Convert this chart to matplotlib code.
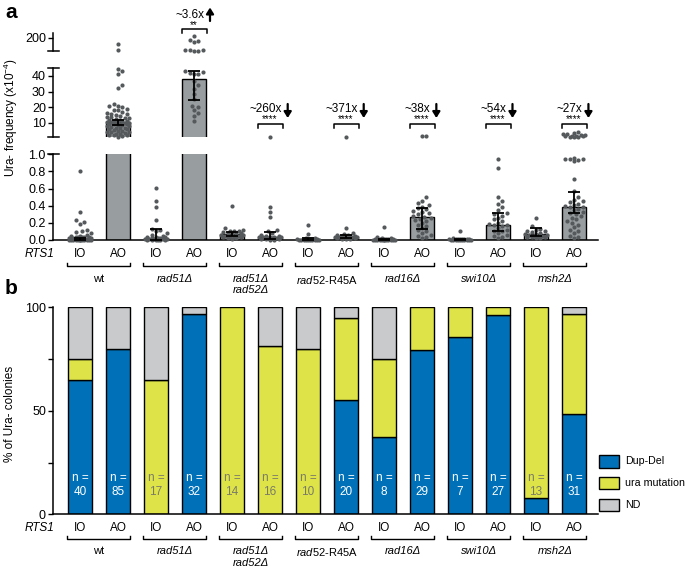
import numpy as np
import matplotlib
matplotlib.use('Agg')
import matplotlib.pyplot as plt
from matplotlib import transforms
from matplotlib.lines import Line2D
from matplotlib.patches import Rectangle, FancyArrowPatch

plt.rcParams['font.family'] = ['Liberation Sans', 'DejaVu Sans']
plt.rcParams['mathtext.fontset'] = 'custom'
plt.rcParams['mathtext.rm'] = 'Liberation Sans'
plt.rcParams['mathtext.it'] = 'Liberation Sans:italic'
plt.rcParams['mathtext.bf'] = 'Liberation Sans:bold'

# ---------------- data ----------------
strains = ['wt', 'rad51Δ', 'rad51Δ\nrad52Δ', '$\\mathit{rad52}$-R45A', 'rad16Δ', 'swi10Δ', 'msh2Δ']
strain_italic = [False, True, True, False, True, True, True]
conditions = ['IO', 'AO'] * 7

# panel a: medians and error range (x10^-4)
medians = [0.01, 10.8, 0.02, 37.9, 0.065, 0.03, 0.01, 0.04, 0.005, 0.265, 0.01, 0.175, 0.066, 0.38]
err_low = [0.005, 8.7, 0.0, 24.7, 0.05, 0.01, 0.0, 0.02, 0.0, 0.13, 0.005, 0.105, 0.05, 0.315]
err_high = [0.02, 11.7, 0.125, 43.2, 0.097, 0.097, 0.02, 0.06, 0.01, 0.37, 0.015, 0.31, 0.136, 0.565]

wt_io = [0.80, 0.33, 0.23, 0.21, 0.19, 0.12, 0.10, 0.09, 0.08, 0.06, 0.05, 0.05, 0.04, 0.04,
         0.03, 0.03, 0.03, 0.02, 0.02, 0.02, 0.02, 0.015, 0.01, 0.01, 0.01, 0.01, 0.01, 0.01,
         0.005, 0.005, 0.005, 0.005, 0.0, 0.0, 0.0, 0.0, 0.0, 0.0, 0.0, 0.0]
wt_ao = [126, 61, 44.5, 43.0, 41.0, 34.5, 32.5, 22, 21, 20.5, 20, 19, 18.5, 18, 17, 16.5, 16,
         15.5, 15, 14.5, 14, 13.5, 13, 13, 12.5, 12, 12, 11.5, 11.5, 11, 11, 10.5, 10.5, 10,
         10, 10, 9.5, 9.5, 9, 9, 8.5, 8.5, 8, 8, 7.5, 7, 7, 6.5, 6, 6, 5.5, 5, 5, 4.5, 4, 4,
         3.5, 3, 3, 2.5, 2, 2, 1.5, 1.2]
rad51_io = [0.61, 0.45, 0.39, 0.23, 0.13, 0.12, 0.10, 0.08, 0.06, 0.05, 0.04, 0.03, 0.03,
            0.02, 0.02, 0.02, 0.01, 0.01, 0.01, 0.01, 0.01, 0.01, 0.0, 0.0, 0.0, 0.0, 0.0, 0.0]
rad51_ao = [223, 174, 163, 148, 57, 56, 56, 55, 54, 43.0, 42.5, 42.0, 41.5, 41.0, 37, 34, 32,
            28.5, 25, 21, 20, 18.5, 16.5, 14.5, 11.5]
rad51rad52_io = [0.40, 0.14, 0.12, 0.11, 0.10, 0.10, 0.09, 0.08, 0.08, 0.07, 0.07, 0.06, 0.06,
                 0.05, 0.05, 0.04, 0.04, 0.03, 0.03, 0.02, 0.02, 0.01]
rad51rad52_ao = [1.3, 0.39, 0.33, 0.27, 0.12, 0.10, 0.08, 0.06, 0.05, 0.05, 0.04, 0.04, 0.03,
                 0.03, 0.03, 0.02, 0.02, 0.02, 0.01, 0.01, 0.01, 0.0, 0.0]
rad52r45a_io = [0.17, 0.07, 0.02, 0.02, 0.01, 0.01, 0.01, 0.01, 0.01, 0.01, 0.005, 0.005,
                0.005, 0.005, 0.005, 0.005, 0.0, 0.0, 0.0, 0.0]
rad52r45a_ao = [1.3, 0.136, 0.08, 0.07, 0.06, 0.06, 0.05, 0.05, 0.05, 0.04, 0.04, 0.04, 0.03,
                0.03, 0.03, 0.02, 0.02, 0.02, 0.01, 0.01, 0.01]
rad16_io = [0.15, 0.03, 0.02, 0.02, 0.01, 0.01, 0.01, 0.01, 0.01, 0.01, 0.005, 0.005, 0.005,
            0.005, 0.005, 0.005, 0.0, 0.0, 0.0, 0.0, 0.0, 0.0]
rad16_ao = [1.6, 1.5, 0.50, 0.46, 0.43, 0.41, 0.39, 0.37, 0.36, 0.34, 0.33, 0.31, 0.30, 0.28,
            0.27, 0.26, 0.25, 0.23, 0.22, 0.20, 0.18, 0.16, 0.14, 0.12, 0.10, 0.08, 0.06, 0.05,
            0.03, 0.02]
swi10_io = [0.11, 0.02, 0.01, 0.01, 0.01, 0.01, 0.01, 0.01, 0.01, 0.01, 0.005, 0.005, 0.005,
            0.005, 0.005, 0.005, 0.0, 0.0, 0.0, 0.0]
swi10_ao = [0.945, 0.845, 0.50, 0.46, 0.42, 0.38, 0.35, 0.31, 0.30, 0.28, 0.26, 0.24, 0.22,
            0.20, 0.19, 0.18, 0.17, 0.16, 0.14, 0.12, 0.11, 0.10, 0.08, 0.06, 0.05, 0.03, 0.02]
msh2_io = [0.26, 0.16, 0.13, 0.12, 0.11, 0.10, 0.09, 0.08, 0.07, 0.07, 0.06, 0.06, 0.05, 0.05,
           0.04, 0.04, 0.03, 0.03, 0.02, 0.02]
msh2_ao = [4.2, 3.5, 3.0, 2.6, 2.3, 2.0, 1.8, 1.6, 1.5, 1.4, 1.3, 1.2, 1.1,
           0.96, 0.95, 0.95, 0.94, 0.93, 0.92, 0.71, 0.57, 0.50, 0.47, 0.45, 0.44, 0.42, 0.41,
           0.40, 0.39, 0.38, 0.36, 0.35, 0.33, 0.31, 0.30, 0.28, 0.26, 0.24, 0.22, 0.20, 0.18,
           0.15, 0.12, 0.10, 0.08, 0.05, 0.03, 0.02]
points = [wt_io, wt_ao, rad51_io, rad51_ao, rad51rad52_io, rad51rad52_ao, rad52r45a_io,
          rad52r45a_ao, rad16_io, rad16_ao, swi10_io, swi10_ao, msh2_io, msh2_ao]

fold_idx = [3, 5, 7, 9, 11, 13]
fold_labels = ['~3.6x', '~260x', '~371x', '~38x', '~54x', '~27x']
fold_up = [True, False, False, False, False, False]
fold_stars = ['**', '****', '****', '****', '****', '****']

# panel b: % of Ura- colonies
dupdel = [65.0, 80.0, 0.0, 96.9, 0.0, 0.0, 0.0, 55.0, 37.5, 79.3, 85.7, 96.3, 7.7, 48.4]
uramut = [10.0, 0.0, 64.7, 0.0, 100.0, 81.25, 80.0, 40.0, 37.5, 20.7, 14.3, 3.7, 92.3, 48.4]
nd = [25.0, 20.0, 35.3, 3.1, 0.0, 18.75, 20.0, 5.0, 25.0, 0.0, 0.0, 0.0, 0.0, 3.2]
n_counts = [40, 85, 17, 32, 14, 16, 10, 20, 8, 29, 7, 27, 13, 31]
legend_labels = ['Dup-Del', 'ura mutation', 'ND']

# ---------------- style ----------------
BLUE = '#0070b8'
YELLOW = '#dee447'
NDGRAY = '#c8cacb'
BARGRAY = '#989da0'
PTGRAY = '#55595c'
FS = 8.5
FS_TICK = 9
FS_NAME = 8

W, H = 685, 572
fig = plt.figure(figsize=(W / 100, H / 100), dpi=100)


def fx(px):
    return px / W


def fy(py):
    return 1 - py / H


L, R = 53, 598
ax_top = fig.add_axes([fx(L), fy(51), (R - L) / W, (51 - 33.3) / H])
ax_mid = fig.add_axes([fx(L), fy(137), (R - L) / W, (137 - 67.7) / H])
ax_bot = fig.add_axes([fx(L), fy(240), (R - L) / W, (240 - 154.3) / H])
ax_b = fig.add_axes([fx(L), fy(514.3), (R - L) / W, (514.3 - 307.3) / H])

xs = np.arange(len(conditions))
XLIM = (-0.71, 13.63)
YL_TOP, YL_MID, YL_BOT = (50, 250), (1, 45.3), (0, 1.0)
for ax, yl in [(ax_top, YL_TOP), (ax_mid, YL_MID), (ax_bot, YL_BOT), (ax_b, (0, 100))]:
    ax.set_xlim(*XLIM)
    ax.set_ylim(*yl)
    ax.patch.set_alpha(0)
    for s in ['top', 'right']:
        ax.spines[s].set_visible(False)
    for s in ['left', 'bottom']:
        ax.spines[s].set_linewidth(1.1)
    ax.tick_params(axis='y', direction='out', length=3.6, width=1.0, labelsize=FS_TICK, pad=1.5)
    ax.tick_params(axis='x', bottom=False, labelbottom=False)
for ax in (ax_top, ax_mid):
    ax.spines['bottom'].set_visible(False)

ax_top.set_yticks([200])
ax_mid.set_yticks([10, 20, 30, 40])
ax_bot.set_yticks([0, 0.2, 0.4, 0.6, 0.8, 1.0])
ax_bot.set_yticklabels(['0.0', '0.2', '0.4', '0.6', '0.8', '1.0'])

# break marks crossing the axis
for py in [51, 67.7, 137, 154.3]:
    fig.add_artist(Line2D([fx(48), fx(59)], [fy(py), fy(py)], color='black', lw=1.1,
                          transform=fig.transFigure))

px_per_x = ax_bot.transData.transform((1, 0))[0] - ax_bot.transData.transform((0, 0))[0]


def seg_for(v):
    if v <= 1.0:
        return ax_bot
    if v <= 45.3:
        return ax_mid
    return ax_top


def swarm(vals, d=4.4, maxoff=12.0):
    ys = np.array([seg_for(v).transData.transform((0, v))[1] for v in vals])
    order = np.argsort(ys)
    step = d * 0.5
    cands = [0.0]
    k = 1
    while k * step <= maxoff:
        cands += [k * step, -k * step]
        k += 1
    px_, py_ = [], []
    offs = np.zeros(len(vals))
    for i in order:
        best, bestscore = 0.0, -1
        for c in cands:
            if px_:
                dist = np.min(np.hypot(np.array(px_) - c, np.array(py_) - ys[i]))
            else:
                dist = np.inf
            if dist >= d:
                best = c
                break
            if dist > bestscore:
                bestscore, best = dist, c
        offs[i] = best
        px_.append(best)
        py_.append(ys[i])
    return offs / px_per_x


med = np.array(medians)
elo = np.array(err_low)
ehi = np.array(err_high)
for ax, (lo, hi) in [(ax_top, (45.3, 1e9)), (ax_mid, (1.0, 45.3)), (ax_bot, (-1, 1.0))]:
    if ax is ax_top:
        sel = np.zeros(len(xs), bool)
    elif ax is ax_mid:
        sel = ehi > lo
    else:
        sel = np.ones(len(xs), bool)
    bsel = sel & (med > lo) if ax is ax_mid else sel
    if bsel.any():
        ax.bar(xs[bsel], med[bsel], width=0.63, color=BARGRAY, edgecolor='black',
               linewidth=1.0, zorder=2)
    for i, vals in enumerate(points):
        v = np.array(vals, dtype=float)
        off = swarm(vals)
        m = (v > lo) & (v <= hi)
        if m.any():
            ax.scatter(xs[i] + off[m], v[m], s=9, color=PTGRAY, linewidths=0, zorder=3,
                       clip_on=False)
    if sel.any():
        ax.errorbar(xs[sel], med[sel], yerr=[med[sel] - elo[sel], ehi[sel] - med[sel]],
                    fmt='none', ecolor='black', elinewidth=1.3, capsize=4.5, capthick=1.3,
                    zorder=4)

fig.text(fx(11), fy(118), 'Ura- frequency (x10$^{-4}$)', rotation=90, ha='center', va='center',
         fontsize=FS)

# fold-change annotations
bt_a = transforms.blended_transform_factory(ax_bot.transData, fig.transFigure)
renderer = fig.canvas.get_renderer()
x0_disp = ax_bot.transData.transform((0, 0))[0]
for j, lab, up, st in zip(fold_idx, fold_labels, fold_up, fold_stars):
    if up:
        ty, sy, by, arr = 15.3, 25.5, 29.3, (21, 7.5)
    else:
        ty, sy, by, arr = 109, 119.5, 124, (104, 118)
    tc = xs[j] - 4.5 / px_per_x
    t = fig.text(tc, fy(ty), lab, transform=bt_a, ha='center', va='center', fontsize=FS)
    ext = t.get_window_extent(renderer)
    ax_x = (ext.x1 - x0_disp) / px_per_x + 6.0 / px_per_x
    fig.text(xs[j], fy(sy), st, transform=bt_a, ha='center', va='center', fontsize=7)
    hw = 12.5 / px_per_x
    fig.add_artist(Line2D([xs[j] - hw, xs[j] - hw, xs[j] + hw, xs[j] + hw],
                          [fy(by + 4), fy(by), fy(by), fy(by + 4)], color='black', lw=1.1,
                          transform=bt_a))
    fig.add_artist(FancyArrowPatch(
        (ax_x, fy(arr[0])), (ax_x, fy(arr[1])), transform=bt_a,
        arrowstyle='-|>,head_length=3.5,head_width=2.2', lw=1.6, color='black',
        shrinkA=0, shrinkB=0, mutation_scale=1))


# x labels for both panels
def xlabels(ax, y_cond, y_br, y_name):
    bt = transforms.blended_transform_factory(ax.transData, fig.transFigure)
    fig.text(fx(40), fy(y_cond), 'RTS1', style='italic', ha='center', va='center', fontsize=FS)
    for i, c in enumerate(conditions):
        fig.text(xs[i], fy(y_cond), c, transform=bt, ha='center', va='center', fontsize=FS)
    for g, name in enumerate(strains):
        x0 = xs[2 * g] - 13 / px_per_x
        x1 = xs[2 * g + 1] + 12 / px_per_x
        fig.add_artist(Line2D([x0, x0, x1, x1],
                              [fy(y_br - 3.3), fy(y_br), fy(y_br), fy(y_br - 3.3)],
                              color='black', lw=1.0, transform=bt))
        fig.text((xs[2 * g] + xs[2 * g + 1]) / 2, fy(y_name), name, transform=bt, ha='center',
                 va='top', fontsize=FS_NAME, style='italic' if strain_italic[g] else 'normal',
                 linespacing=1.2)


xlabels(ax_bot, 254.3, 266, 273.8)
xlabels(ax_b, 528.3, 539.3, 546.3)

# panel b stacked bars
bottoms = np.zeros(len(xs))
for vals, col in [(dupdel, BLUE), (uramut, YELLOW), (nd, NDGRAY)]:
    v = np.array(vals)
    m = v > 0
    ax_b.bar(xs[m], v[m], bottom=bottoms[m], width=0.61, color=col, edgecolor='black',
             linewidth=1.0, zorder=2)
    bottoms += v
ax_b.set_yticks([0, 50, 100])
ax_b.set_yticks([25, 75], minor=True)
ax_b.tick_params(axis='y', which='minor', direction='out', length=3.6, width=1.0)
fig.text(fx(10), fy(414), '% of Ura- colonies', rotation=90, ha='center', va='center',
         fontsize=FS)

for i in xs:
    col = 'white' if dupdel[i] > 15 else '#7a7a6a'
    ax_b.text(i, 17.7, 'n =', ha='center', va='center', fontsize=FS, color=col, zorder=5)
    ax_b.text(i, 10.6, str(n_counts[i]), ha='center', va='center', fontsize=FS, color=col,
              zorder=5)

# legend
for lab, col, cy in zip(legend_labels, [BLUE, YELLOW, NDGRAY], [461.3, 483.2, 505.2]):
    fig.add_artist(Rectangle((fx(598.5), fy(cy + 6.2)), 20.5 / W, 12.4 / H,
                             transform=fig.transFigure, facecolor=col, edgecolor='black', lw=1.0))
    fig.text(fx(625), fy(cy), lab, ha='left', va='center', fontsize=7.7)

# panel letters
fig.text(fx(5), fy(13), 'a', fontsize=15, fontweight='bold', ha='left', va='center')
fig.text(fx(5), fy(289), 'b', fontsize=15, fontweight='bold', ha='left', va='center')

fig.savefig('out.png', dpi=100)
